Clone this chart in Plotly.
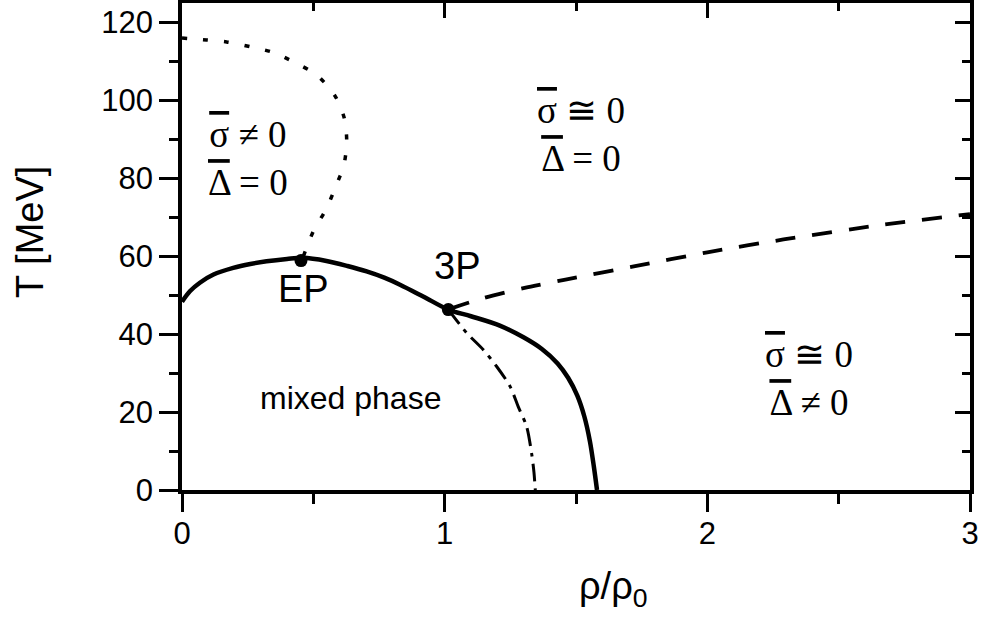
import plotly.graph_objects as go

# ---- data ----
solid_x = [0.0, 0.03, 0.068, 0.12, 0.195, 0.26, 0.322, 0.40, 0.46, 0.55, 0.63, 0.703, 0.77, 0.83,
           0.92, 1.014, 1.10, 1.21, 1.30, 1.37, 1.43, 1.47, 1.505, 1.532, 1.553, 1.568, 1.58]
solid_T = [48.3, 51.0, 53.2, 55.3, 57.0, 58.0, 58.7, 59.3, 59.6, 58.8, 57.5, 56.1, 54.5, 52.7,
           49.6, 46.3, 44.6, 42.2, 39.2, 36.2, 32.5, 28.8, 24.2, 18.8, 12.5, 6.0, 0.0]

dashdot_x = [1.014, 1.084, 1.147, 1.198, 1.249, 1.28, 1.312, 1.331, 1.34, 1.345]
dashdot_T = [46.3, 40.3, 36.0, 31.7, 26.6, 21.4, 16.3, 9.4, 4.5, 0.0]

dotted_x = [0.0, 0.094, 0.17, 0.259, 0.348, 0.424, 0.513, 0.583, 0.618, 0.627, 0.617, 0.586,
            0.548, 0.50, 0.46]
dotted_T = [116.0, 115.5, 115.0, 113.8, 112.3, 109.9, 106.5, 101.1, 95.4, 89.6, 83.6, 78.0,
            72.0, 66.4, 59.6]

dashed_x = [1.02, 1.15, 1.30, 1.46, 1.72, 2.0, 2.29, 2.67, 3.0]
dashed_T = [46.5, 49.3, 51.8, 54.0, 57.4, 61.0, 64.3, 68.1, 70.8]

points_x = [0.453, 1.014]
points_T = [58.9, 46.3]
point_names = ["EP", "3P"]

x_ticks = [0, 1, 2, 3]
y_ticks = [0, 20, 40, 60, 80, 100, 120]

SANS = "Liberation Sans, Arial, sans-serif"
SERIF = "Liberation Serif, Times New Roman, serif"

fig = go.Figure()
fig.add_trace(go.Scatter(x=dotted_x, y=dotted_T, mode="lines",
                         line=dict(color="black", width=3.5, dash="5px,16px", shape="spline", smoothing=0.8)))
fig.add_trace(go.Scatter(x=dashed_x, y=dashed_T, mode="lines",
                         line=dict(color="black", width=3.8, dash="20px,17px", shape="spline", smoothing=0.8)))
fig.add_trace(go.Scatter(x=dashdot_x, y=dashdot_T, mode="lines",
                         line=dict(color="black", width=3, dash="18px,7px,4px,7px", shape="spline", smoothing=0.8)))
fig.add_trace(go.Scatter(x=solid_x, y=solid_T, mode="lines",
                         line=dict(color="black", width=4.5, shape="spline", smoothing=0.9)))
fig.add_trace(go.Scatter(x=points_x, y=points_T, mode="markers",
                         marker=dict(color="black", size=13)))
# dummy trace for the mirrored (top/right) axes
fig.add_trace(go.Scatter(x=[0], y=[0], xaxis="x2", yaxis="y2", mode="markers",
                         marker=dict(size=0, opacity=0), hoverinfo="skip"))

axis_common = dict(showgrid=False, zeroline=False, showline=True, linecolor="black", linewidth=3.8,
                   tickcolor="black", tickwidth=3, automargin=False)

fig.update_layout(
    width=982, height=633,
    margin=dict(l=182, r=12, t=3, b=143),
    paper_bgcolor="white", plot_bgcolor="white",
    showlegend=False,
    xaxis=dict(range=[0, 3], tickvals=x_ticks, ticks="outside", ticklen=18,
               minor=dict(dtick=0.5, ticks="outside", ticklen=10, tickwidth=3, tickcolor="black"),
               tickfont=dict(family=SANS, size=31, color="black"), ticklabelstandoff=-5,
               **axis_common),
    yaxis=dict(range=[0, 125], tickvals=y_ticks, ticks="outside", ticklen=19,
               minor=dict(dtick=10, tick0=0, ticks="outside", ticklen=9, tickwidth=3, tickcolor="black"),
               tickfont=dict(family=SANS, size=31, color="black"), ticklabelstandoff=0,
               **axis_common),
    xaxis2=dict(range=[0, 3], overlaying="x", side="top", anchor="y2", tickvals=x_ticks,
                ticks="inside", ticklen=15, showticklabels=False,
                minor=dict(dtick=0.5, ticks="inside", ticklen=8, tickwidth=3, tickcolor="black"),
                **axis_common),
    yaxis2=dict(range=[0, 125], overlaying="y", side="right", anchor="x2", tickvals=y_ticks,
                ticks="inside", ticklen=15, showticklabels=False,
                minor=dict(dtick=10, tick0=0, ticks="inside", ticklen=8, tickwidth=3, tickcolor="black"),
                **axis_common),
)

OV = "<span style='text-decoration:overline'>{}</span>"
sig = OV.format("\u03c3")
dlt = OV.format("\u0394")

annotations = [
    dict(x=points_x[0] + 0.008, y=51.7, text=point_names[0], font=dict(family=SANS, size=38)),
    dict(x=points_x[1] + 0.033, y=57.6, text=point_names[1], font=dict(family=SANS, size=38)),
    dict(x=0.643, y=23.7, text="mixed phase", font=dict(family=SANS, size=32)),
    dict(x=0.251, y=85.1, text=sig + " \u2260 0<br>" + dlt + " = 0", font=dict(family=SERIF, size=37)),
    dict(x=1.519, y=91.3, text=sig + " \u2245 0<br>" + dlt + " = 0", font=dict(family=SERIF, size=37)),
    dict(x=2.387, y=28.5, text=sig + " \u2245 0<br>" + dlt + " \u2260 0", font=dict(family=SERIF, size=37)),
]
for a in annotations:
    a.update(xref="x", yref="y", showarrow=False, xanchor="center", yanchor="middle", align="center")
    a["font"]["color"] = "black"

annotations.append(dict(xref="paper", yref="paper", x=(30 - 182) / 788, y=(490 - 232) / 487,
                        text="T [MeV]", textangle=-90, showarrow=False, xanchor="center", yanchor="middle",
                        font=dict(family=SANS, size=38, color="black")))
annotations.append(dict(xref="paper", yref="paper", x=(613 - 182) / 788, y=(490 - 589) / 487,
                        text="\u03c1/\u03c1<sub>0</sub>", showarrow=False, xanchor="center", yanchor="middle",
                        font=dict(family=SANS, size=38, color="black")))
fig.update_layout(annotations=annotations)

fig.write_html("out.html", config={"displayModeBar": False},
               post_script="document.body.style.margin='0px';")
